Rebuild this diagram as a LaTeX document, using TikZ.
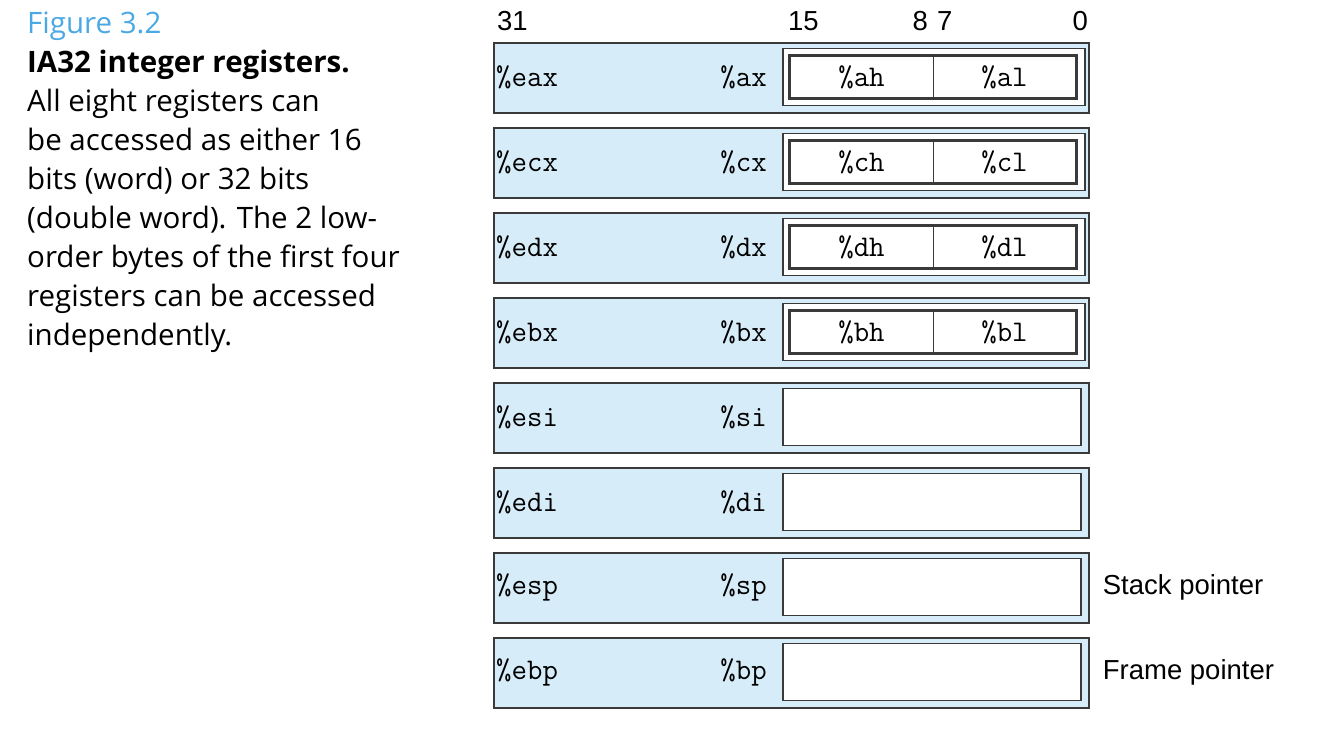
\documentclass[tikz,border=0pt]{standalone}
\usepackage{fontspec}
\setmainfont{Open Sans}
\newfontfamily\bitfont{Liberation Sans}
\definecolor{regblue}{HTML}{D7ECF9}
\definecolor{figblue}{HTML}{4AA8E4}
\definecolor{edge}{HTML}{3A3A3A}
\tikzset{
  reg/.style={draw=edge, line width=1.5pt, fill=regblue, anchor=north west, minimum width=595pt, minimum height=70pt, inner sep=0pt},
  wbox/.style={draw=edge, line width=1.3pt, fill=white, minimum height=57pt, inner sep=0pt},
  hbox/.style={draw=edge, line width=1pt, minimum width=143pt, minimum height=42pt, inner sep=0pt, font=\ttfamily\fontsize{30}{30}\selectfont},
  lbl/.style={font=\ttfamily\fontsize{30}{30}\selectfont, inner sep=0pt},
  bit/.style={font=\bitfont\fontsize{27.5}{27.5}\selectfont, inner sep=0pt},
}
\begin{document}
\begin{tikzpicture}[x=1pt,y=-1pt]
\useasboundingbox (0,0) rectangle (1318,740);
\node[anchor=north west, align=left, inner sep=0pt, font=\fontsize{29.5}{39}\selectfont] (cap) at (27,12)
 {\textcolor{figblue}{Figure 3.2}\\ \textbf{IA32 integer registers.}\\ All eight registers can\\ be accessed as either 16\\ bits (word) or 32 bits\\ (double word). The 2 low-\\ order bytes of the first four\\ registers can be accessed\\ independently.};
\path (497,30) node[bit, anchor=base west] (n31) {31} (788,30) node[bit, anchor=base west] (n15) {15}
 (928,30) node[bit, anchor=base east] (n8) {8} (937,30) node[bit, anchor=base west] (n7) {7}
 (1088,30) node[bit, anchor=base east] (n0) {0};
\foreach \e/\w [count=\i from 0] in {eax/ax, ecx/cx, edx/dx, ebx/bx, esi/si, edi/di, esp/sp, ebp/bp} {
  \node[reg] (r\e) at (493,42+85*\i) {};
  \node[lbl, anchor=west] (l\e) at ([xshift=3pt]r\e.west) {\%\e};
  \node[lbl, anchor=east] (l\w) at (767,77+85*\i) {\%\w};
}
% byte halves of the first four
\foreach \w/\h/\l [count=\i from 0] in {ax/ah/al, cx/ch/cl, dx/dh/dl, bx/bh/bl} {
  \node[wbox, minimum width=302pt] (w\w) at (934,77+85*\i) {};
  \node[hbox] (b\h) at (861.5,77+85*\i) {\%\h};
  \node[hbox] (b\l) at (1004.5,77+85*\i) {\%\l};
  \draw[edge, line width=2.6pt] (b\h.north west) rectangle (b\l.south east);
}
\foreach \w [count=\i from 4] in {si, di, sp, bp}
  \node[wbox, minimum width=298pt] (w\w) at (932,77+85*\i) {};
\node[bit, anchor=west] (stack) at ([xshift=21pt]wsp.east) {Stack pointer};
\node[bit, anchor=west] (frame) at ([xshift=21pt]wbp.east) {Frame pointer};
\end{tikzpicture}
\end{document}
